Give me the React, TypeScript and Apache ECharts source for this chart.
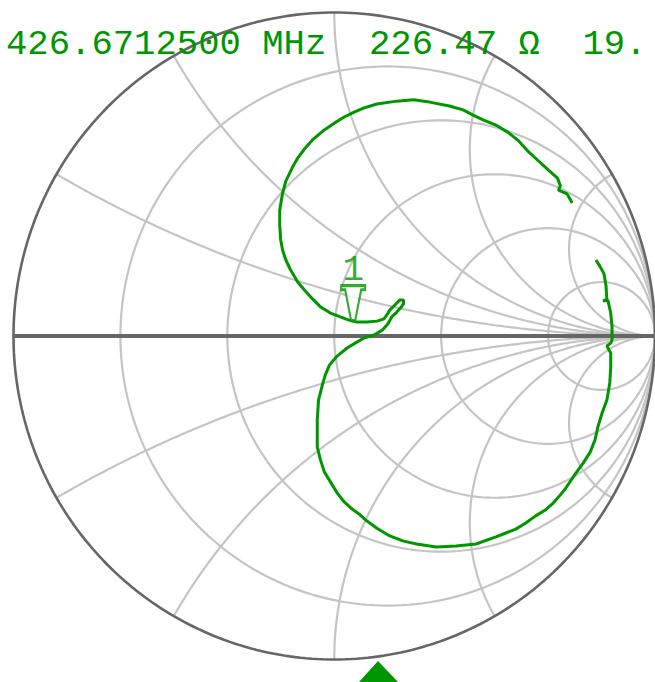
import React, { useEffect, useRef } from 'react';
import * as echarts from 'echarts';

// Smith chart grid values
const RESISTANCE_CIRCLES = [0.2, 0.5, 1, 2, 5];
const REACTANCE_ARCS = [0.268, 0.577, 1, 1.732, 3.732];

const TRACE_RE = [
  0.742, 0.726, 0.699, 0.705, 0.696, 0.668, 0.637, 0.606, 0.575, 0.544,
  0.504, 0.464, 0.433, 0.402, 0.359, 0.297, 0.247, 0.195, 0.133, 0.093,
  0.062, 0.031, 0.0, -0.031, -0.068, -0.093, -0.114, -0.130, -0.151, -0.161,
  -0.170, -0.170, -0.167, -0.161, -0.151, -0.136, -0.114, -0.093, -0.074, -0.043,
  -0.012, 0.019, 0.046, 0.071, 0.102, 0.133, 0.155, 0.164, 0.173, 0.189,
  0.204, 0.216, 0.216, 0.207, 0.195, 0.179, 0.167, 0.151, 0.124, 0.093,
  0.065, 0.040, 0.009, -0.015, -0.028, -0.037, -0.049, -0.053, -0.053, -0.043,
  -0.031, -0.012, 0.009, 0.031, 0.056, 0.077, 0.102, 0.133, 0.173, 0.216,
  0.257, 0.318, 0.380, 0.442, 0.504, 0.535, 0.566, 0.597, 0.628, 0.658,
  0.680, 0.699, 0.720, 0.751, 0.776, 0.798, 0.813, 0.822, 0.835, 0.850,
  0.859, 0.862, 0.862, 0.850, 0.862, 0.866, 0.866, 0.862, 0.853, 0.838,
  0.850, 0.847, 0.841, 0.828, 0.816,
];
const TRACE_IM = [
  0.411, 0.439, 0.451, 0.464, 0.488, 0.513, 0.541, 0.569, 0.603, 0.628,
  0.652, 0.668, 0.683, 0.699, 0.711, 0.723, 0.730, 0.726, 0.717, 0.705,
  0.692, 0.677, 0.658, 0.637, 0.606, 0.578, 0.550, 0.522, 0.479, 0.442,
  0.389, 0.343, 0.297, 0.266, 0.235, 0.204, 0.167, 0.142, 0.121, 0.090,
  0.071, 0.059, 0.049, 0.043, 0.043, 0.046, 0.053, 0.065, 0.080, 0.096,
  0.111, 0.111, 0.099, 0.087, 0.074, 0.059, 0.037, 0.019, 0.003, -0.006,
  -0.022, -0.037, -0.062, -0.090, -0.121, -0.151, -0.198, -0.260, -0.343, -0.383,
  -0.420, -0.451, -0.485, -0.513, -0.535, -0.550, -0.572, -0.594, -0.618, -0.634,
  -0.643, -0.652, -0.649, -0.643, -0.621, -0.609, -0.597, -0.578, -0.556, -0.538,
  -0.519, -0.498, -0.473, -0.427, -0.393, -0.359, -0.321, -0.281, -0.238, -0.198,
  -0.145, -0.096, -0.053, -0.031, -0.022, -0.012, 0.028, 0.071, 0.111, 0.108,
  0.114, 0.158, 0.192, 0.216, 0.235,
];

// Marker 1 position on the trace
const MARKER_RE = [0.059];
const MARKER_IM = [0.046];
const MARKER_LABELS = ['1'];

// Marker readout
const READOUT = ['426.6712500 MHz', '226.47 Ω', '19.'];

const GREEN = '#009600';
const RIM = '#666666';
const GRID = '#c4c4c4';

function arcPoints(cx: number, cy: number, rad: number, a0: number, a1: number, n = 240) {
  const pts: number[][] = [];
  for (let i = 0; i <= n; i++) {
    const a = a0 + ((a1 - a0) * i) / n;
    pts.push([cx + rad * Math.cos(a), cy + rad * Math.sin(a)]);
  }
  return pts;
}

function gridLine(data: number[][], color: string, width: number, z = 1) {
  return {
    type: 'line',
    data,
    showSymbol: false,
    symbol: 'none',
    silent: true,
    clip: false,
    z,
    lineStyle: { color, width },
  };
}

export default function App() {
  const ref = useRef<HTMLDivElement>(null);

  useEffect(() => {
    document.body.style.margin = '0';
    if (!ref.current) return;
    const chart = echarts.init(ref.current, undefined, { renderer: 'svg' });

    const series: any[] = [];
    // resistance circles
    RESISTANCE_CIRCLES.forEach((r) => {
      series.push(gridLine(arcPoints(r / (1 + r), 0, 1 / (1 + r), 0, Math.PI * 2), GRID, 2.2));
    });
    // reactance arcs (both signs)
    REACTANCE_ARCS.forEach((x) => {
      const rimX = (x * x - 1) / (x * x + 1);
      const rimY = (2 * x) / (x * x + 1);
      let a0 = Math.atan2(rimY - 1 / x, rimX - 1);
      if (a0 < 0) a0 += Math.PI * 2;
      const up = arcPoints(1, 1 / x, 1 / x, a0, Math.PI * 1.5);
      series.push(gridLine(up, GRID, 2.2));
      series.push(gridLine(up.map((p) => [p[0], -p[1]]), GRID, 2.2));
    });
    // outer rim and real axis
    series.push(gridLine(arcPoints(0, 0, 1, 0, Math.PI * 2, 360), RIM, 2.6, 2));
    series.push(gridLine([[-1, 0], [1, 0]], RIM, 4, 2));

    // trace
    series.push({
      type: 'line',
      data: TRACE_RE.map((re, i) => [re, TRACE_IM[i]]),
      showSymbol: false,
      symbol: 'none',
      clip: false,
      z: 5,
      lineStyle: { color: GREEN, width: 3 },
    });

    // marker
    series.push({
      type: 'scatter',
      data: MARKER_RE.map((re, i) => ({ value: [re, MARKER_IM[i]], name: MARKER_LABELS[i] })),
      symbol: 'path://M0,0 L24,0 L24,4 L20,4 L14,34 L10,34 L4,4 L0,4 Z',
      symbolSize: [24, 35],
      symbolOffset: [0, -18],
      clip: false,
      z: 6,
      itemStyle: { color: '#ffffff', borderColor: GREEN, borderWidth: 2.5 },
      label: {
        show: true,
        position: 'top',
        distance: -4,
        formatter: (p: any) => p.name,
        color: GREEN,
        fontFamily: 'Liberation Mono',
        fontSize: 36,
      },
    });

    chart.setOption({
      animation: false,
      backgroundColor: '#ffffff',
      grid: { left: 13.5, top: 12.5, width: 647, height: 647 },
      xAxis: { type: 'value', min: -1, max: 1, show: false },
      yAxis: { type: 'value', min: -1, max: 1, show: false },
      series,
      graphic: [
        {
          type: 'text',
          x: 6,
          y: 44,
          z: 100,
          style: {
            text: READOUT.join('  '),
            fill: GREEN,
            fontFamily: 'Liberation Mono',
            fontSize: 35.6,
            verticalAlign: 'middle',
          },
        },
        {
          type: 'polygon',
          z: 100,
          shape: { points: [[378, 661], [359, 682], [398, 682]] },
          style: { fill: GREEN },
        },
      ],
    });

    return () => chart.dispose();
  }, []);

  return <div ref={ref} style={{ width: 655, height: 682 }} />;
}
